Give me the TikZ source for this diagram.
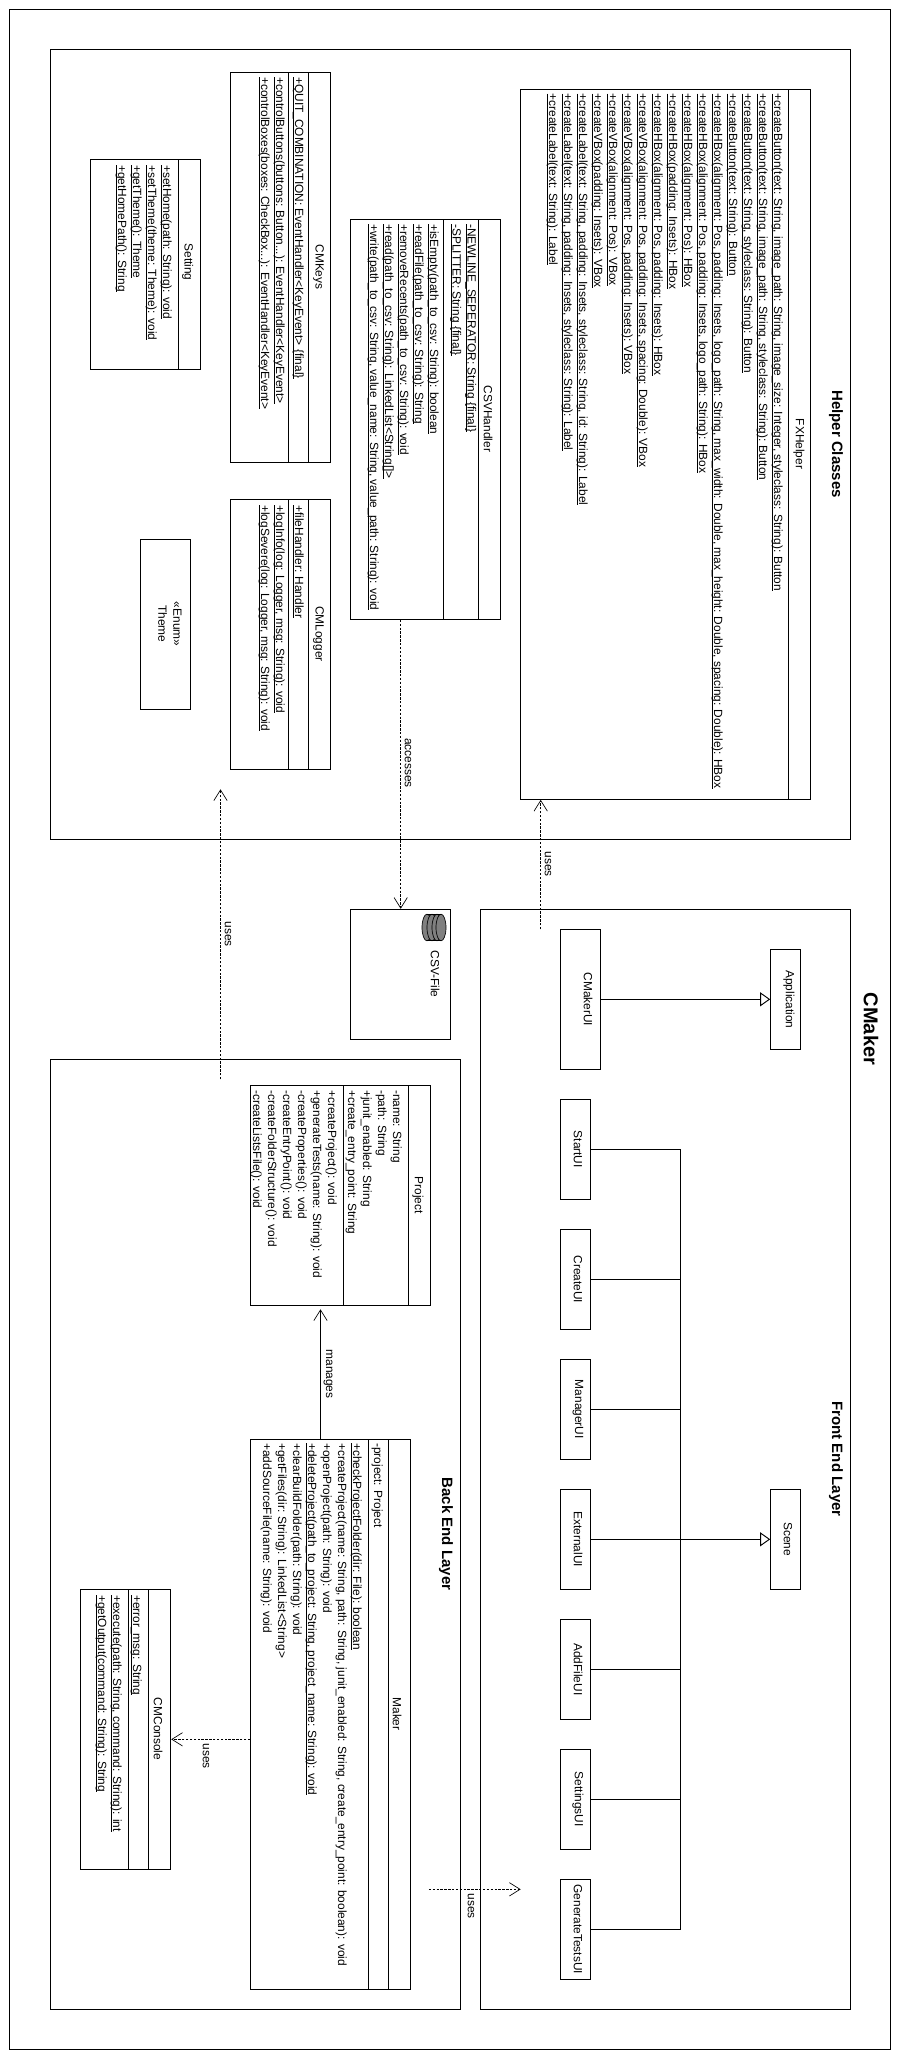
\documentclass[tikz,border=0pt]{standalone}
\usepackage{fontspec}
\setmainfont{Liberation Sans}
\usetikzlibrary{arrows.meta}
\newcommand{\stat}[1]{\leavevmode\sbox0{#1}\rlap{\rule[-1.5pt]{\wd0}{0.6pt}}\box0}
\tikzset{
  px/.style 2 args={minimum width=#1*0.75pt, minimum height=#2*0.75pt},
  box/.style={draw, line width=0.8pt, inner sep=0pt},
  title/.style={rotate=-90, inner sep=0pt},
  layer/.style={rotate=-90, inner sep=0pt, font=\fontsize{11.25}{13}\selectfont\bfseries},
  members/.style={rotate=-90, anchor=north west, inner sep=0pt, align=left},
  sep/.style={line width=0.7pt},
  conn/.style={line width=0.7pt},
  dep/.style={conn, dash pattern=on 1.8pt off 1.1pt, -{Straight Barb[length=8pt,width=10pt,line width=0.5pt]}},
  assoc/.style={conn, -{Straight Barb[length=8pt,width=10pt,line width=0.5pt]}},
  inherit/.style={line width=0.8pt, -{Triangle[open,fill=white,length=7.5pt,width=10.5pt,line width=0.7pt]}}
}
\begin{document}
\begin{tikzpicture}[x=0.75pt, y=-0.75pt, font=\fontsize{8.92}{11.25}\selectfont]
\useasboundingbox (0,0) rectangle (900,2060);
% layers
\node[box, px={881}{2040}] (Outer) at (450,1029.5) {};
\node[box, px={800}{790}] (HelperLayer) at (450.7,444.3) {};
\node[box, px={370}{1100}] (FrontLayer) at (665.7,1459.3) {};
\node[box, px={410}{950}] (BackLayer) at (255.7,1534.3) {};
\node[layer, font=\fontsize{15}{18}\selectfont\bfseries] (OuterTitle) at (871,1029) {CMaker};
\node[layer] (HelperTitle) at (836,444) {Helper Classes};
\node[layer] (FrontTitle) at (836,1459) {Front End Layer};
\node[layer] (BackTitle) at (446,1534) {Back End Layer};
% helper classes
\node[box, px={290}{710}] (FXHelper) at (665.7,444.3) {};
\draw[sep] (788.3,89.3) -- (788.3,799.3);
\node[title] (FXHelperName) at (799,444) {FXHelper};
\node[members] (FXHelperOps) at (783,93.3) {\stat{+createButton(text: String, image\_path: String, image\_size: Integer, styleclass: String): Button}\\
\stat{+createButton(text: String, image\_path: String, styleclass: String): Button}\\
\stat{+createButton(text: String, styleclass: String): Button}\\
\stat{+createButton(text: String): Button}\\
\stat{+createHBox(alignment: Pos, padding: Insets, logo\_path: String, max\_width: Double, max\_height: Double, spacing: Double): HBox}\\
\stat{+createHBox(alignment: Pos, padding: Insets, logo\_path: String): HBox}\\
\stat{+createHBox(alignment: Pos): HBox}\\
\stat{+createHBox(padding: Insets): HBox}\\
\stat{+createHBox(alignment: Pos, padding: Insets): HBox}\\
\stat{+createVBox(alignment: Pos, padding: Insets, spacing: Double): VBox}\\
\stat{+createVBox(alignment: Pos, padding: Insets): VBox}\\
\stat{+createVBox(alignment: Pos): VBox}\\
\stat{+createVBox(padding: Insets): VBox}\\
\stat{+createLabel(text: String, padding: Insets, styleclass: String, id: String): Label}\\
\stat{+createLabel(text: String, padding: Insets, styleclass: String): Label}\\
\stat{+createLabel(text: String): Label}};
\node[box, px={150}{400}] (CSVHandler) at (425.7,419.3) {};
\draw[sep] (478.8,219.3) -- (478.8,619.3);
\draw[sep] (443.7,219.3) -- (443.7,619.3);
\node[title] (CSVHandlerName) at (488,419) {CSVHandler};
\node[members] (CSVHandlerAttrs) at (476.5,224) {\stat{-NEWLINE\_SEPERATOR: String \{final\}}\\
\stat{-SPLITTER: String \{final\}}};
\node[members] (CSVHandlerOps) at (439,224) {\stat{+isEmpty(path\_to\_csv: String): boolean}\\
\stat{+readFile(path\_to\_csv: String): String}\\
\stat{+removeRecents(path\_to\_csv: String): void}\\
\stat{+read(path\_to\_csv: String): LinkedList<String[]>}\\
\stat{+write(path\_to\_csv: String, value\_name: String, value\_path: String): void}};
\node[box, px={100}{390}] (CMKeys) at (280.7,267.3) {};
\draw[sep] (308.3,72.3) -- (308.3,462.3);
\draw[sep] (288.8,72.3) -- (288.8,462.3);
\node[title] (CMKeysName) at (318.6,267) {CMKeys};
\node[members] (CMKeysAttrs) at (304,77) {\stat{+QUIT\_COMBINATION: EventHandler<KeyEvent> \{final\}}};
\node[members] (CMKeysOps) at (285,77) {\stat{+controlButtons(buttons: Button...): EventHandler<KeyEvent>}\\
\stat{+controlBoxes(boxes: CheckBox...): EventHandler<KeyEvent>}};
\node[box, px={100}{270}] (CMLogger) at (280.7,634.3) {};
\draw[sep] (308.3,499.3) -- (308.3,769.3);
\draw[sep] (288.8,499.3) -- (288.8,769.3);
\node[title] (CMLoggerName) at (318.6,634) {CMLogger};
\node[members] (CMLoggerAttrs) at (304,505) {\stat{+fileHandler: Handler}};
\node[members] (CMLoggerOps) at (285,505) {\stat{+logInfo(log: Logger, msg: String): void}\\
\stat{+logSevere(log: Logger, msg: String): void}};
\node[box, px={110}{210}] (Setting) at (145.7,264.3) {};
\draw[sep] (178.5,159.3) -- (178.5,369.3);
\node[title] (SettingName) at (187.7,262) {Setting};
\node[members] (SettingOps) at (172,165) {\stat{+setHome(path: String): void}\\
\stat{+setTheme(theme: Theme): void}\\
\stat{+getTheme(): Theme}\\
\stat{+getHomePath(): String}};
\node[box, px={50}{170}] (Theme) at (165.7,624.3) {};
\node[title, align=center] (ThemeName) at (170,624) {«Enum»\\Theme};
% csv file
\node[box, px={100}{130}] (CSVFile) at (400.7,974.3) {};
\node[title] (CSVFileName) at (435,974) {CSV-File};
\fill[gray] (427,914) rectangle (441,941);
\foreach \dx in {427,432,437,441}
  \draw[line width=0.5pt, fill=gray] (\dx,927.5) ellipse [x radius=3.75pt, y radius=10pt];
\draw[line width=0.5pt] (427,914.2) -- (441,914.2) (427,940.8) -- (441,940.8);
% front end
\node[box, px={40}{140}] (CMakerUI) at (580.7,999.3) {};
\node[title] (CMakerUIName) at (588,999.3) {CMakerUI};
\node[box, px={30}{100}] (Application) at (785.7,999.3) {};
\node[title] (ApplicationName) at (789,999.3) {Application};
\node[box, px={30}{100}] (Scene) at (785.7,1539.3) {};
\node[title] (SceneName) at (788,1539.3) {Scene};
\foreach \ui/\yy in {StartUI/1149.3, CreateUI/1279.3, ManagerUI/1409.3, ExternalUI/1539.3, AddFileUI/1669.3, SettingsUI/1799.3, GenerateTestsUI/1929.3} {
  \node[box, px={30}{100}] (\ui) at (575.7,\yy) {};
  \node[title] (\ui Name) at (578,\yy) {\ui};
}
\draw[inherit] (CMakerUI.east) -- (Application.west);
\draw[inherit] (ExternalUI.east) -- (Scene.west);
\coordinate (Trunk) at (680.5,1149.3);
\draw[conn] (Trunk |- StartUI.east) -- (Trunk |- GenerateTestsUI.east);
\foreach \ui in {StartUI, CreateUI, ManagerUI, AddFileUI, SettingsUI, GenerateTestsUI}
  \draw[conn] (\ui.east) -- (Trunk |- \ui.east);
% back end
\node[box, px={180}{220}] (Project) at (340.7,1195.5) {};
\draw[sep] (408.7,1085.5) -- (408.7,1305.5);
\draw[sep] (343.3,1085.5) -- (343.3,1305.5);
\node[title] (ProjectName) at (418,1195) {Project};
\node[members] (ProjectAttrs) at (402,1090) {-name: String\\
-path: String\\
+junit\_enabled: String\\
+create\_entry\_point: String};
\node[members] (ProjectOps) at (337,1090) {+createProject(): void\\
+generateTests(name: String): void\\
-createProperties(): void\\
-createEntryPoint(): void\\
-createFolderStructure(): void\\
-createListsFile(): void};
\node[box, px={160}{550}] (Maker) at (330.7,1714.3) {};
\draw[sep] (388.3,1439.3) -- (388.3,1989.3);
\draw[sep] (368.3,1439.3) -- (368.3,1989.3);
\node[title] (MakerName) at (397,1714) {Maker};
\node[members] (MakerAttrs) at (383,1443) {-project: Project};
\node[members] (MakerOps) at (362,1443) {\stat{+checkProjectFolder(dir: File): boolean}\\
+createProject(name: String, path: String, junit\_enabled: String, create\_entry\_point: boolean): void\\
+openProject(path: String): void\\
\stat{+deleteProject(path\_to\_project: String, project\_name: String): void}\\
+clearBuildFolder(path: String): void\\
+getFiles(dir: String): LinkedList<String>\\
+addSourceFile(name: String): void};
\node[box, px={90}{280}] (CMConsole) at (125.7,1729.3) {};
\draw[sep] (148.7,1589.3) -- (148.7,1869.3);
\draw[sep] (128.6,1589.3) -- (128.6,1869.3);
\node[title] (CMConsoleName) at (158,1729) {CMConsole};
\node[members] (CMConsoleAttrs) at (142,1595) {\stat{+error\_msg: String}};
\node[members] (CMConsoleOps) at (122,1595) {\stat{+execute(path: String, command: String): int}\\
\stat{+getOutput(command: String): String}};
% relations
\draw[dep] (CSVHandler.south -| CSVFile.north) -- (CSVFile.north);
\node[title] (AccessesLabel) at (408,763) {accesses};
\coordinate (UsesHelperStart) at (540.7,929.3);
\draw[dep] (UsesHelperStart) -- (UsesHelperStart |- FXHelper.south);
\node[title] (UsesHelperLabel) at (548,864) {uses};
\coordinate (UsesBackStart) at (220.5,1079.3);
\coordinate (UsesBackEnd) at (220.5,789.3);
\draw[dep] (UsesBackStart) -- (UsesBackEnd);
\node[title] (UsesBackLabel) at (228,934) {uses};
\coordinate (ManagesEnd) at (320.5,1309.3);
\draw[assoc] (ManagesEnd |- Maker.north) -- (ManagesEnd);
\node[title] (ManagesLabel) at (328,1374) {manages};
\coordinate (UsesConsoleY) at (0,1739.3);
\draw[dep] (Maker.west |- UsesConsoleY) -- (CMConsole.east |- UsesConsoleY);
\node[title] (UsesConsoleLabel) at (206,1756) {uses};
\coordinate (UsesFrontStart) at (428.8,1889.3);
\coordinate (UsesFrontEnd) at (520.7,1889.3);
\draw[dep] (UsesFrontStart) -- (UsesFrontEnd);
\node[title] (UsesFrontLabel) at (471,1906) {uses};
\end{tikzpicture}
\end{document}
